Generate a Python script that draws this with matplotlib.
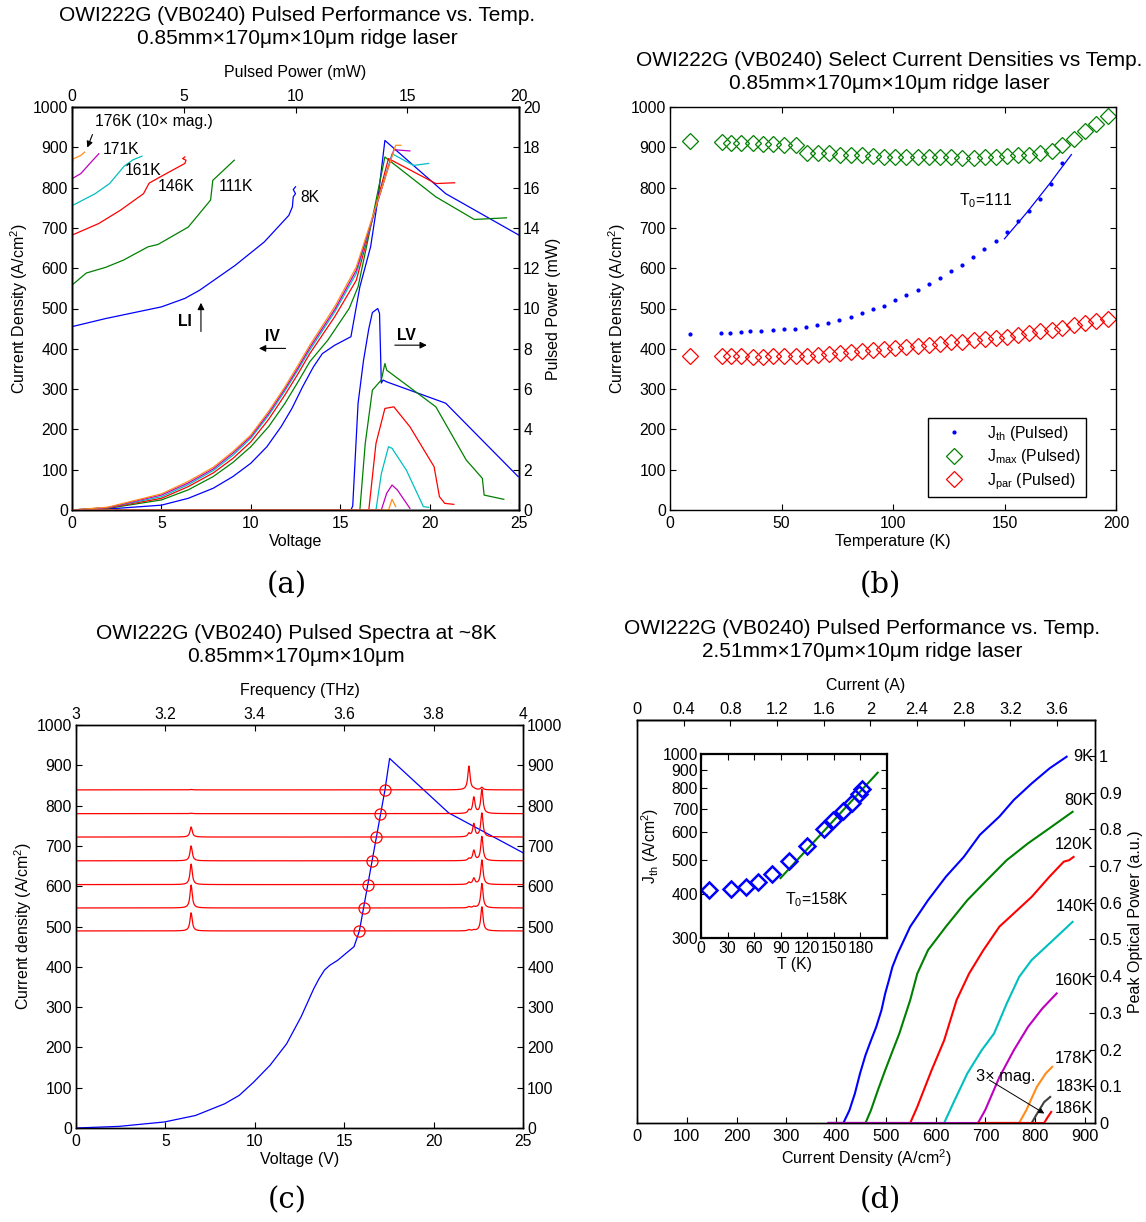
import numpy as np
import matplotlib
matplotlib.use("Agg")
import matplotlib.pyplot as plt

plt.rcParams['font.family'] = ['Liberation Sans', 'DejaVu Sans']
plt.rcParams['mathtext.fontset'] = 'custom'
plt.rcParams['mathtext.rm'] = 'Liberation Sans'
plt.rcParams['mathtext.it'] = 'Liberation Sans:italic'
plt.rcParams['font.size'] = 11
plt.rcParams['axes.linewidth'] = 1.0

# ---------------- colours ----------------
C_BLUE = (0, 0, 1)
C_GREEN = (0, 0.5, 0)
C_RED = (1, 0, 0)
C_CYAN = (0, 0.75, 0.75)
C_MAG = (0.75, 0, 0.75)
C_ORANGE = (1, 0.55, 0.1)
C_GRAY = (0.25, 0.25, 0.25)

# ---------------- panel (a) data ----------------
# LI curves: pulsed power (mW, top axis) vs current density (A/cm^2)
li_8k_p = [0, 0, 1.5, 4.0, 5.05, 5.7, 7.3, 8.6, 9.7, 9.86, 9.9, 10.0, 9.9, 10.0]
li_8k_j = [0, 455, 475, 504, 525, 545, 607, 665, 731, 752, 777, 785, 795, 802]
li_111_p = [0, 0, 0.64, 1.5, 2.3, 3.4, 3.85, 5.2, 6.2, 6.3, 7.26]
li_111_j = [0, 558, 588, 602, 620, 653, 659, 702, 769, 818, 868]
li_146_p = [0, 0, 1.2, 2.17, 3.2, 3.45, 3.93, 5.05, 5.1, 4.95, 5.05]
li_146_j = [0, 682, 711, 744, 785, 811, 826, 860, 868, 872, 876]
li_161_p = [0, 0, 1.04, 1.68, 2.33, 2.73, 3.13]
li_161_j = [0, 755, 785, 810, 853, 869, 878]
li_171_p = [0, 0, 0.4, 0.8, 1.2]
li_171_j = [0, 822, 835, 860, 884]
li_176_p = [0, 0, 0.08, 0.4, 0.56]
li_176_j = [0, 860, 872, 880, 888]

# IV curves: voltage vs current density
iv_8k_v = [0, 2.5, 5, 6.5, 7.9, 9.0, 10, 10.9, 11.7, 12.3, 12.9, 13.5, 14.0, 14.7, 15.6,
           16.1, 16.7, 17.1, 17.5, 20.9, 25]
iv_8k_j = [0, 4, 12, 29, 54, 83, 116, 157, 207, 252, 306, 355, 388, 409, 430,
           554, 653, 769, 917, 785, 682]
iv_111_v = [0, 2, 5, 6.5, 7.9, 9, 10, 11, 11.9, 12.6, 13.3, 14.3, 15.5, 16.0, 16.7, 17.5, 20.35, 22.5, 24.3]
iv_111_j = [0, 4, 25, 50, 83, 118, 157, 207, 264, 315, 368, 421, 500, 554, 702, 876, 777, 721, 725]
iv_146_v = [0, 2, 5, 6.5, 7.9, 9, 10, 11, 11.9, 12.6, 13.3, 14.7, 15.9, 17.7, 20.35, 21.4]
iv_146_j = [0, 5, 29, 58, 92, 128, 169, 225, 285, 335, 388, 480, 570, 872, 810, 812]
iv_161_v = [0, 2, 5, 6.5, 7.9, 9, 10, 11, 11.9, 12.6, 13.3, 14.7, 15.9, 17.9, 19.1, 19.95]
iv_161_j = [0, 6, 33, 63, 98, 136, 178, 235, 295, 345, 397, 492, 587, 884, 855, 860]
iv_171_v = [0, 2, 5, 6.5, 7.9, 9, 10, 11, 11.9, 12.6, 13.3, 14.7, 15.9, 18.0, 18.9]
iv_171_j = [0, 6, 37, 67, 102, 141, 182, 240, 300, 350, 403, 498, 595, 894, 891]
iv_176_v = [0, 2, 5, 6.5, 7.9, 9, 10, 11, 11.9, 12.6, 13.3, 14.7, 15.9, 18.1, 18.4]
iv_176_j = [0, 7, 40, 71, 106, 145, 186, 245, 305, 356, 409, 505, 603, 905, 905]

# LV curves: voltage vs pulsed power (mW, right axis)
lv_8k_v = [0, 15.6, 15.7, 16.0, 16.3, 16.6, 16.8, 17.1, 17.2, 17.3, 17.4, 17.6, 20.9, 24.96]
lv_8k_p = [0, 0, 0.2, 5.3, 7.4, 9.0, 9.8, 10.0, 9.75, 6.3, 6.45, 6.36, 5.3, 1.65]
lv_111_v = [0, 16.1, 16.4, 16.8, 17.3, 17.5, 17.6, 20.35, 22.05, 22.95, 23.05, 24.15]
lv_111_p = [0, 0, 3.3, 5.95, 6.45, 7.27, 6.94, 5.12, 2.48, 1.57, 0.74, 0.53]
lv_146_v = [0, 16.6, 17.0, 17.5, 18.0, 18.9, 20.25, 20.55, 20.85, 21.35]
lv_146_p = [0, 0, 3.3, 5.04, 5.12, 4.13, 2.15, 0.66, 0.33, 0.28]
lv_161_v = [0, 17.0, 17.3, 17.7, 17.9, 18.7, 19.65, 19.95]
lv_161_p = [0, 0, 1.8, 3.14, 3.06, 1.98, 0.17, 0.13]
lv_171_v = [0, 17.3, 17.6, 17.9, 18.2, 18.9]
lv_171_p = [0, 0, 0.83, 1.24, 0.99, 0.08]
lv_176_v = [0, 17.7, 17.9, 18.1]
lv_176_p = [0, 0, 0.53, 0.17]

# ---------------- panel (b) data ----------------
temps_th = [9, 23, 27, 32, 36, 41, 46, 51, 56, 61, 66, 71, 76, 81, 86, 91, 96,
            101, 106, 111, 116, 121, 126, 131, 136, 141, 146, 151, 156, 161, 166, 171, 176]
j_th = [437, 440, 440, 442, 444, 445, 447, 448, 450, 454, 459, 465, 472, 479, 489, 498, 507,
        520, 533, 546, 561, 575, 592, 609, 627, 647, 668, 690, 717, 743, 772, 808, 861]
temps_mp = [9, 23.5, 27.5, 32, 37, 41.5, 46, 51, 56.5, 61.5, 66.3, 71.2, 76.2, 81.2, 86.2, 91.2, 96.1,
            101, 106, 111, 116.1, 121.2, 126.2, 131.1, 136.1, 141.1, 146.1, 151.1, 156.1, 161.1,
            166.1, 171.1, 176, 181, 186, 191, 196.2]
j_max = [916, 913, 911, 911, 911, 909, 907, 906, 905, 887, 886, 886, 882, 881, 880, 878, 876,
         876, 876, 876, 876, 876, 876, 874, 873, 876, 876, 878, 880, 882, 886, 890, 905, 921, 940, 959, 978]
j_par = [383, 382, 382, 381, 380, 380, 381, 382, 382, 382, 384, 387, 389, 391, 395, 398, 400,
         402, 405, 407, 410, 412, 416, 418, 421, 424, 427, 430, 435, 440, 444, 447, 451, 458, 463, 469, 474]
fit_b_t = [150, 160, 170, 180]
fit_b_j = [673, 738, 808, 882]

# ---------------- panel (c) data ----------------
iv_c_v = [0, 2.4, 4.95, 6.68, 8.31, 9.13, 9.94, 10.86, 11.78, 12.59, 13.3, 13.6, 13.9, 14.2, 14.63,
          15.55, 15.85, 17.28, 17.54, 20.84, 25]
iv_c_j = [0, 4, 15, 31, 60, 81, 114, 156, 209, 276, 346, 371, 392, 404, 416,
          450, 489, 839, 917, 782, 683]
spec_base = [489, 546, 604, 663, 722, 780, 839]
spec_volt = [15.85, 16.1, 16.34, 16.58, 16.8, 17.03, 17.28]
peak_freqs = [3.2575, 3.879, 3.89, 3.908]
# peak heights (A/cm^2 units above baseline) for each trace, at each peak frequency
peak_h = [
    [45, 3, 2, 60],
    [57, 3, 3, 61],
    [51, 5, 15, 61],
    [37, 5, 25, 60],
    [25, 8, 32, 59],
    [1, 8, 40, 59],
    [1, 59, 2, 6],
]
peak_width = 0.003

# ---------------- panel (d) data ----------------
d_9k_j = [385, 414.6, 426.8, 437.6, 448, 459, 470, 480.6, 491, 498.6, 506, 513, 523.7, 548.8,
          584.6, 620.5, 656.4, 688.7, 728, 756.8, 792.7, 828.5, 863]
d_9k_p = [0, 0, 0.035, 0.08, 0.135, 0.185, 0.225, 0.262, 0.307, 0.353, 0.389, 0.425, 0.462, 0.535,
          0.607, 0.671, 0.725, 0.785, 0.835, 0.88, 0.925, 0.966, 0.998]
d_80k_j = [385, 459, 470, 484, 498.6, 513, 527, 538, 548.8, 563, 584.6, 620.5, 663.5, 699.4, 742.5, 785.5, 828.5, 875]
d_80k_p = [0, 0, 0.035, 0.09, 0.144, 0.195, 0.244, 0.29, 0.335, 0.407, 0.471, 0.535, 0.607, 0.657, 0.716, 0.762, 0.803, 0.848]
d_120k_j = [385, 548.8, 563, 591.8, 616.9, 642, 667, 695.8, 728, 756.8, 792.7, 828.5, 857.2, 868, 877]
d_120k_p = [0, 0, 0.044, 0.144, 0.225, 0.335, 0.407, 0.471, 0.535, 0.571, 0.616, 0.671, 0.712, 0.716, 0.725]
d_140k_j = [385, 617, 634.9, 663.5, 692.2, 717.3, 742.5, 767.6, 792.7, 828.5, 875]
d_140k_p = [0, 0, 0.053, 0.135, 0.198, 0.244, 0.325, 0.398, 0.444, 0.489, 0.548]
d_160k_j = [385, 685, 699.4, 728, 756.8, 785.5, 814.2, 842.9]
d_160k_p = [0, 0, 0.035, 0.125, 0.198, 0.262, 0.312, 0.353]
d_178k_j = [685, 767.6, 782, 803, 821, 834]
d_178k_p = [0, 0, 0.035, 0.098, 0.135, 0.153]
d_183k_j = [685, 792.7, 803.4, 817.8, 830]
d_183k_p = [0, 0, 0.025, 0.057, 0.071]
d_186k_j = [685, 817.8, 825, 832]
d_186k_p = [0, 0, 0.016, 0.03]
d_labels = ['9K', '80K', '120K', '140K', '160K', '178K', '183K', '186K']
d_label_p = [0.998, 0.88, 0.76, 0.589, 0.389, 0.177, 0.10, 0.039]
area_cm2 = 0.251 * 0.017  # 2.51 mm x 170 um

# inset
ins_t = [8.7, 34.4, 51.1, 64.9, 79.9, 99.7, 119.5, 139.3, 149.2, 159.9, 170.2, 178.9, 182.1]
ins_j = [411, 413, 420, 433, 455, 496, 546, 614, 650, 688, 727, 768, 795]
ins_fit_t = [89.8, 199.5]
ins_fit_j = [444, 885]

# ---------------- figure ----------------
W, H = 1146, 1222
fig = plt.figure(figsize=(W / 100, H / 100), dpi=100)


def rect(l, r, t, b):
    return [l / W, 1 - b / H, (r - l) / W, (b - t) / H]


TK = 11.3  # tick label size
LS = 11.5  # axis label size
TX = 11.3  # annotation size
TS = 15    # title size
PS = 21    # panel letter size
TOPPAD = 9


def style(ax, size=TK):
    ax.tick_params(direction='in', length=4.5, width=0.8, labelsize=size, pad=3)
    ax.tick_params(axis='x', which='both', pad=4.5)


# ======== (a) ========
axA = fig.add_axes(rect(72, 519, 107, 510))
style(axA)
axA.set_xlim(0, 25)
axA.set_ylim(0, 1000)
axA.set_xticks(np.arange(0, 26, 5))
axA.set_yticks(np.arange(0, 1001, 100))
axA.set_xlabel('Voltage', fontsize=LS, labelpad=2)
axA.set_ylabel('Current Density (A/cm$^2$)', fontsize=LS, labelpad=2)
iv_sets = [(iv_8k_v, iv_8k_j, C_BLUE), (iv_111_v, iv_111_j, C_GREEN), (iv_146_v, iv_146_j, C_RED),
           (iv_161_v, iv_161_j, C_CYAN), (iv_171_v, iv_171_j, C_MAG), (iv_176_v, iv_176_j, C_ORANGE)]
for v, j, c in iv_sets:
    axA.plot(v, j, color=c, lw=0.9)

axAt = axA.twiny()
style(axAt)
axAt.tick_params(axis='x', pad=2)
axAt.set_xlim(0, 20)
axAt.set_xticks(np.arange(0, 21, 5))
axAt.set_xlabel('Pulsed Power (mW)', fontsize=LS, labelpad=TOPPAD)
li_sets = [(li_8k_p, li_8k_j, C_BLUE), (li_111_p, li_111_j, C_GREEN), (li_146_p, li_146_j, C_RED),
           (li_161_p, li_161_j, C_CYAN), (li_171_p, li_171_j, C_MAG), (li_176_p, li_176_j, C_ORANGE)]
for p, j, c in li_sets:
    axAt.plot(p, j, color=c, lw=0.9)
axAt.text(1.04, 963, '176K (10× mag.)', fontsize=TX, va='center', ha='left')
axAt.annotate('', xy=(0.64, 893), xytext=(0.96, 938),
              arrowprops=dict(arrowstyle='-|>', color='k', lw=0.8, mutation_scale=9))
for txt, px, jy in [('171K', 1.36, 894), ('161K', 2.36, 843), ('146K', 3.82, 803),
                    ('111K', 6.58, 802), ('8K', 10.2, 775)]:
    axAt.text(px, jy, txt, fontsize=TX, va='center', ha='left')
axAt.text(4.73, 467, 'LI', fontsize=TX, fontweight='bold', va='center', ha='left')
axAt.annotate('', xy=(5.77, 521), xytext=(5.77, 436),
              arrowprops=dict(arrowstyle='-|>', color='k', lw=0.8, mutation_scale=10))

axAr = axA.twinx()
style(axAr)
axAr.set_ylim(0, 20)
axAr.set_yticks(np.arange(0, 21, 2))
axAr.set_ylabel('Pulsed Power (mW)', fontsize=LS, labelpad=4)
lv_sets = [(lv_8k_v, lv_8k_p, C_BLUE), (lv_111_v, lv_111_p, C_GREEN), (lv_146_v, lv_146_p, C_RED),
           (lv_161_v, lv_161_p, C_CYAN), (lv_171_v, lv_171_p, C_MAG), (lv_176_v, lv_176_p, C_ORANGE)]
for v, p, c in lv_sets:
    axAr.plot(v, p, color=c, lw=0.9)
axA.text(11.2, 430, 'IV', fontsize=TX, fontweight='bold', va='center', ha='center')
axA.annotate('', xy=(10.3, 401), xytext=(12.1, 401),
             arrowprops=dict(arrowstyle='-|>', color='k', lw=0.8, mutation_scale=10))
axA.text(18.7, 434, 'LV', fontsize=TX, fontweight='bold', va='center', ha='center')
axA.annotate('', xy=(20.0, 409), xytext=(17.9, 409),
             arrowprops=dict(arrowstyle='-|>', color='k', lw=0.8, mutation_scale=10))
fig.text(297 / W, 1 - 27 / H, 'OWI222G (VB0240) Pulsed Performance vs. Temp.\n0.85mm×170μm×10μm ridge laser',
         ha='center', va='center', fontsize=TS, linespacing=1.25)
fig.text(287 / W, 1 - 585 / H, '(a)', ha='center', va='center', fontsize=PS, family='DejaVu Serif')

# ======== (b) ========
axB = fig.add_axes(rect(670, 1116, 107, 510))
style(axB)
axB.tick_params(top=True, right=True)
axB.set_xlim(0, 200)
axB.set_ylim(0, 1000)
axB.set_xticks(np.arange(0, 201, 50))
axB.set_yticks(np.arange(0, 1001, 100))
axB.set_xlabel('Temperature (K)', fontsize=LS, labelpad=2)
axB.set_ylabel('Current Density (A/cm$^2$)', fontsize=LS, labelpad=2)
axB.plot(temps_th, j_th, ls='none', marker='.', ms=4, color=C_BLUE, label=r'$\mathregular{J_{th}}$ (Pulsed)')
axB.plot(temps_mp, j_max, ls='none', marker='D', ms=8, mfc='none', mec=C_GREEN, mew=0.9,
         label=r'$\mathregular{J_{max}}$ (Pulsed)')
axB.plot(temps_mp, j_par, ls='none', marker='D', ms=8, mfc='none', mec=C_RED, mew=0.9,
         label=r'$\mathregular{J_{par}}$ (Pulsed)')
axB.plot(fit_b_t, fit_b_j, color=C_BLUE, lw=0.9)
axB.text(129.8, 768, r'$\mathregular{T_0}$=111', fontsize=TX, va='center', ha='left')
leg = axB.legend(loc='lower right', bbox_to_anchor=(0.933, 0.032), borderaxespad=0, fancybox=False,
                 edgecolor='k', framealpha=1, fontsize=TX, borderpad=0.35, labelspacing=0.3,
                 handletextpad=0.8, handlelength=2.6)
leg.get_frame().set_linewidth(1.0)
fig.text(889 / W, 1 - 72 / H, 'OWI222G (VB0240) Select Current Densities vs Temp.\n0.85mm×170μm×10μm ridge laser',
         ha='center', va='center', fontsize=TS, linespacing=1.25)
fig.text(880 / W, 1 - 585 / H, '(b)', ha='center', va='center', fontsize=PS, family='DejaVu Serif')

# ======== (c) ========
axC = fig.add_axes(rect(76, 523, 725, 1128))
style(axC)
axC.tick_params(right=True, labelright=True)
axC.set_xlim(0, 25)
axC.set_ylim(0, 1000)
axC.set_xticks(np.arange(0, 26, 5))
axC.set_yticks(np.arange(0, 1001, 100))
axC.set_xlabel('Voltage (V)', fontsize=LS, labelpad=2)
axC.set_ylabel('Current density (A/cm$^2$)', fontsize=LS, labelpad=2)
axC.plot(iv_c_v, iv_c_j, color=C_BLUE, lw=0.9, zorder=3)
axCt = axC.twiny()
style(axCt)
axCt.tick_params(axis='x', pad=2)
axCt.set_xlim(3, 4)
axCt.set_xticks([3, 3.2, 3.4, 3.6, 3.8, 4])
axCt.set_xticklabels(['3', '3.2', '3.4', '3.6', '3.8', '4'])
axCt.set_xlabel('Frequency (THz)', fontsize=LS, labelpad=TOPPAD)
fgrid = np.linspace(3, 4, 3000)
for base, hts in zip(spec_base, peak_h):
    y = np.full_like(fgrid, float(base))
    for f0, h in zip(peak_freqs, hts):
        y = y + h / (1 + ((fgrid - f0) / peak_width) ** 2)
    axCt.plot(fgrid, y, color=C_RED, lw=0.9)
axC.plot(spec_volt, spec_base, ls='none', marker='o', ms=8, mfc='none', mec=C_RED, mew=0.9, zorder=4)
fig.text(296 / W, 1 - 645 / H, 'OWI222G (VB0240) Pulsed Spectra at ~8K\n0.85mm×170μm×10μm',
         ha='center', va='center', fontsize=TS, linespacing=1.25)
fig.text(287 / W, 1 - 1200 / H, '(c)', ha='center', va='center', fontsize=PS, family='DejaVu Serif')

# ======== (d) ========
DK = 11.8
axD = fig.add_axes(rect(637, 1095, 720, 1123))
style(axD, DK)
axD.set_xlim(0, 920)
axD.set_ylim(0, 1.098)
axD.set_xticks(np.arange(0, 901, 100))
axD.set_yticks([])
axD.set_xlabel('Current Density (A/cm$^2$)', fontsize=LS, labelpad=2)
axDt = axD.secondary_xaxis('top', functions=(lambda x: x * area_cm2, lambda x: x / area_cm2))
axDt.tick_params(direction='in', length=4.5, width=0.8, labelsize=DK, pad=2)
cur_ticks = [0, 0.4, 0.8, 1.2, 1.6, 2, 2.4, 2.8, 3.2, 3.6]
axDt.set_xticks(cur_ticks)
axDt.set_xticklabels(['0', '0.4', '0.8', '1.2', '1.6', '2', '2.4', '2.8', '3.2', '3.6'])
axDt.set_xlabel('Current (A)', fontsize=LS, labelpad=TOPPAD)
axDr = axD.twinx()
style(axDr, DK)
axDr.set_ylim(0, 1.098)
axDr.set_yticks(np.round(np.arange(0, 1.01, 0.1), 1))
axDr.set_yticklabels(['0', '0.1', '0.2', '0.3', '0.4', '0.5', '0.6', '0.7', '0.8', '0.9', '1'])
axDr.set_ylabel('Peak Optical Power (a.u.)', fontsize=LS, labelpad=4)
d_sets = [(d_9k_j, d_9k_p, C_BLUE), (d_80k_j, d_80k_p, C_GREEN), (d_120k_j, d_120k_p, C_RED),
          (d_140k_j, d_140k_p, C_CYAN), (d_160k_j, d_160k_p, C_MAG), (d_178k_j, d_178k_p, C_ORANGE),
          (d_183k_j, d_183k_p, C_GRAY), (d_186k_j, d_186k_p, C_RED)]
for j, p, c in d_sets:
    axDr.plot(j, p, color=c, lw=1.5)
for lab, py in zip(d_labels, d_label_p):
    axDr.text(917, py, lab, fontsize=DK, ha='right', va='center')
axDr.text(681, 0.127, '3× mag.', fontsize=DK, ha='left', va='center')
axDr.annotate('', xy=(823, 0.022), xytext=(703, 0.121),
              arrowprops=dict(arrowstyle='-|>', color='k', lw=0.7, mutation_scale=8))
fig.text(862 / W, 1 - 640 / H, 'OWI222G (VB0240) Pulsed Performance vs. Temp.\n2.51mm×170μm×10μm ridge laser',
         ha='center', va='center', fontsize=TS, linespacing=1.25)
fig.text(880 / W, 1 - 1200 / H, '(d)', ha='center', va='center', fontsize=PS, family='DejaVu Serif')

# inset
IK = 11.3
axI = fig.add_axes(rect(701, 887, 754, 938))
axI.set_yscale('log')
axI.set_xlim(0, 210)
axI.set_ylim(300, 1000)
axI.tick_params(direction='in', length=4, width=0.8, labelsize=IK, pad=2, top=True, right=True,
                which='both')
for s in axI.spines.values():
    s.set_linewidth(1.6)
axI.set_xticks([0, 30, 60, 90, 120, 150, 180])
axI.set_xticklabels(['0', '30', '60', '90', '120', '150', '180'])
yt = [300, 400, 500, 600, 700, 800, 900, 1000]
axI.yaxis.set_major_locator(matplotlib.ticker.FixedLocator(yt))
axI.yaxis.set_minor_locator(matplotlib.ticker.NullLocator())
axI.set_yticklabels([str(v) for v in yt])
axI.set_xlabel('T (K)', fontsize=IK, labelpad=1)
axI.set_ylabel('J$_{\\mathregular{th}}$ (A/cm$^2$)', fontsize=IK, labelpad=1)
axI.plot(ins_fit_t, ins_fit_j, color=C_GREEN, lw=1.5, clip_on=False)
axI.plot(ins_t, ins_j, ls='none', marker='D', ms=8.5, mfc='none', mec=C_BLUE, mew=1.8)
axI.text(94.6, 385, r'$\mathregular{T_0}$=158K', fontsize=IK, ha='left', va='center')

fig.savefig('out.png', dpi=100)
